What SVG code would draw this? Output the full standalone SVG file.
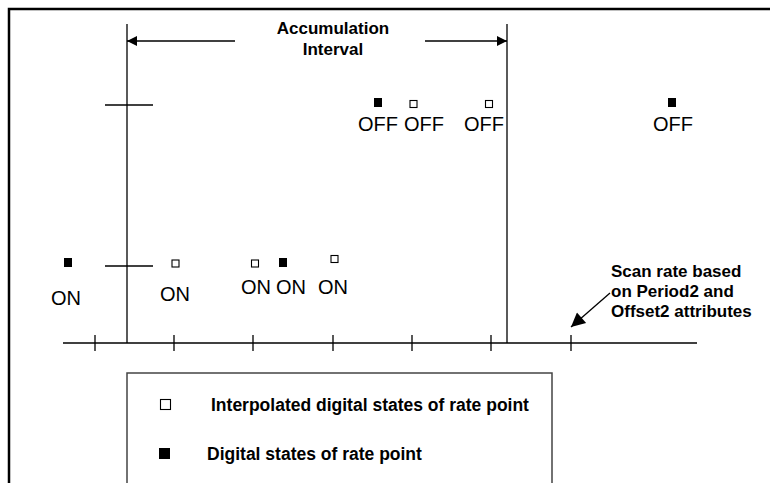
<svg xmlns="http://www.w3.org/2000/svg" width="770" height="483" viewBox="0 0 770 483">
  <defs>
    <marker id="arrowHead" viewBox="0 0 10 10" refX="10" refY="5" markerWidth="10" markerHeight="10" markerUnits="userSpaceOnUse" orient="auto">
      <path d="M0,0 L10,5 L0,10 z" fill="#000"/>
    </marker>
    <marker id="scanHead" viewBox="0 0 10 10" refX="10" refY="5" markerWidth="16" markerHeight="14" markerUnits="userSpaceOnUse" orient="auto">
      <path d="M0,0 L10,5 L0,10 z" fill="#000"/>
    </marker>
  </defs>
  <style>
    .line { stroke: #000; stroke-width: 1.3; fill: none; }
    .frame { stroke: #000; stroke-width: 2.5; fill: none; }
    .legendbox { stroke: #444; stroke-width: 1.5; fill: none; }
    .filled { fill: #000; stroke: none; }
    .hollow { fill: #fff; stroke: #000; stroke-width: 1.1; }
    .state { font-family: "Liberation Sans", Arial, sans-serif; font-size: 20px; fill: #000; text-anchor: middle; }
    .note { font-family: "Liberation Sans", Arial, sans-serif; font-size: 17px; font-weight: bold; fill: #000; }
    .legend { font-family: "Liberation Sans", Arial, sans-serif; font-size: 17.5px; font-weight: bold; fill: #000; }
  </style>

  <rect width="770" height="483" fill="#fff"/>

  <!-- outer frame: top and left edges -->
  <path class="frame" d="M9,483 L9,9 L770,9"/>

  <g id="connectors">
    <!-- accumulation interval bounds -->
    <line class="line" x1="127" y1="24" x2="127" y2="343"/>
    <line class="line" x1="507" y1="24" x2="507" y2="343"/>
    <line class="line" x1="235" y1="41" x2="127" y2="41" marker-end="url(#arrowHead)"/>
    <line class="line" x1="425" y1="41" x2="507" y2="41" marker-end="url(#arrowHead)"/>
    <!-- level marks -->
    <line class="line" x1="105" y1="105" x2="153" y2="105"/>
    <line class="line" x1="105" y1="266" x2="153" y2="266"/>
    <!-- time axis with scan ticks -->
    <line class="line" x1="63" y1="343" x2="697" y2="343" stroke-width="2"/>
    <path class="line" d="M95,335 V351 M174,335 V351 M253,335 V351 M333,335 V351 M412,335 V351 M491,335 V351 M571,335 V351"/>
    <!-- scan rate pointer -->
    <line class="line" x1="610" y1="293" x2="571" y2="327" marker-end="url(#scanHead)"/>
  </g>

  <g id="title">
    <text class="note" x="333" y="34" text-anchor="middle">Accumulation</text>
    <text class="note" x="333" y="55" text-anchor="middle">Interval</text>
  </g>

  <g id="scan-note">
    <text class="note" x="611" y="277">Scan rate based</text>
    <text class="note" x="611" y="297">on Period2 and</text>
    <text class="note" x="611" y="317">Offset2 attributes</text>
  </g>

  <!-- ON states -->
  <g id="on-1">
    <rect class="filled" x="64" y="258" width="8" height="9"/>
    <text class="state" x="66" y="305">ON</text>
  </g>
  <g id="on-2">
    <rect class="hollow" x="172" y="260" width="7" height="7"/>
    <text class="state" x="175" y="301">ON</text>
  </g>
  <g id="on-3">
    <rect class="hollow" x="251.5" y="260" width="7" height="7"/>
    <text class="state" x="256" y="294">ON</text>
  </g>
  <g id="on-4">
    <rect class="filled" x="279" y="258" width="8" height="9"/>
    <text class="state" x="291" y="294">ON</text>
  </g>
  <g id="on-5">
    <rect class="hollow" x="331" y="255.5" width="7" height="7"/>
    <text class="state" x="333" y="294">ON</text>
  </g>

  <!-- OFF states -->
  <g id="off-1">
    <rect class="filled" x="374" y="98" width="8" height="9"/>
    <text class="state" x="378" y="131">OFF</text>
  </g>
  <g id="off-2">
    <rect class="hollow" x="410" y="100.5" width="7" height="7"/>
    <text class="state" x="424" y="131">OFF</text>
  </g>
  <g id="off-3">
    <rect class="hollow" x="485.5" y="100.5" width="7" height="7"/>
    <text class="state" x="484" y="131">OFF</text>
  </g>
  <g id="off-4">
    <rect class="filled" x="668" y="98" width="8" height="9"/>
    <text class="state" x="673" y="131">OFF</text>
  </g>

  <g id="legend">
    <path class="legendbox" d="M127,483 L127,373 L552,373 L552,483"/>
    <rect class="hollow" x="160.5" y="399.5" width="10" height="10"/>
    <text class="legend" x="211" y="411">Interpolated digital states of rate point</text>
    <rect class="filled" x="159" y="448" width="11" height="11"/>
    <text class="legend" x="207" y="460">Digital states of rate point</text>
  </g>
</svg>
